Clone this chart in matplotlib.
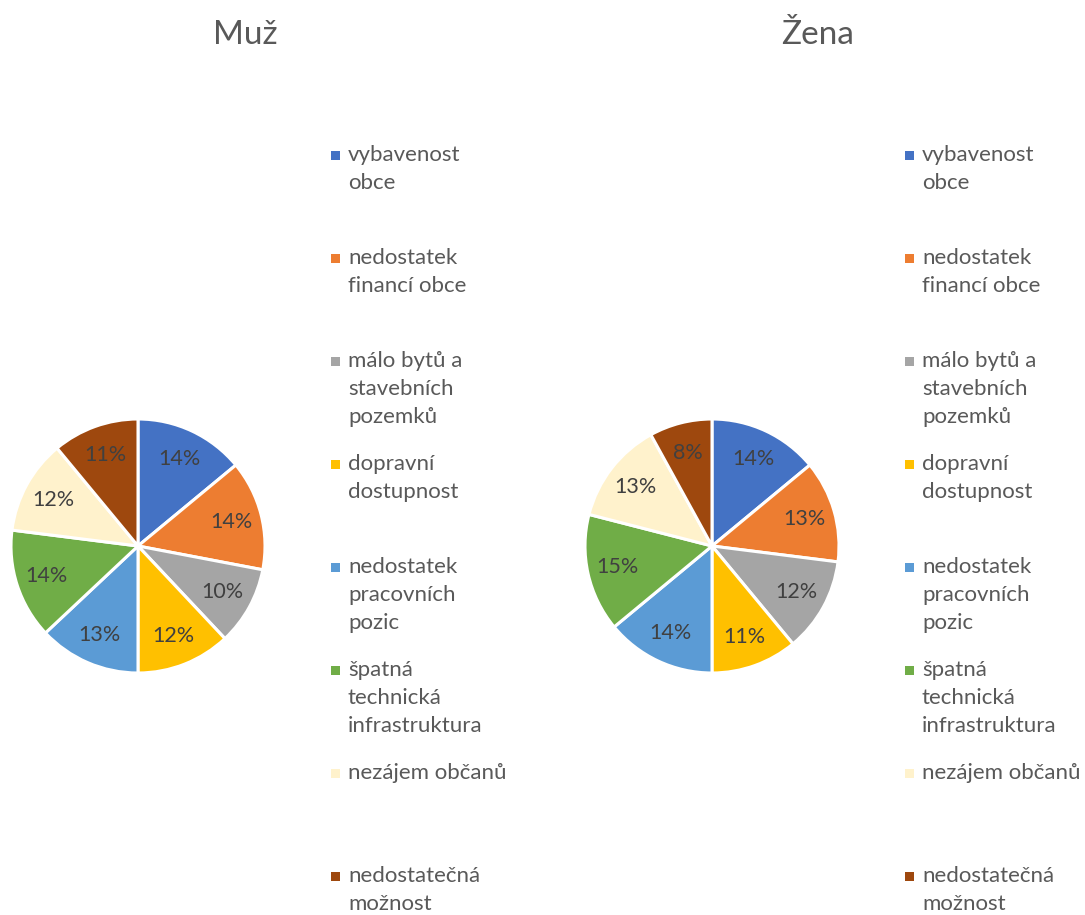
import matplotlib
matplotlib.use("Agg")
import matplotlib.pyplot as plt
from matplotlib.patches import Rectangle

plt.rcParams['font.family'] = ['Lato', 'DejaVu Sans']

titles = ["Muž", "Žena"]
categories = ["vybavenost\nobce", "nedostatek\nfinancí obce", "málo bytů a\nstavebních\npozemků",
              "dopravní\ndostupnost", "nedostatek\npracovních\npozic",
              "špatná\ntechnická\ninfrastruktura", "nezájem občanů", "nedostatečná\nmožnost"]
muz = [14, 14, 10, 12, 13, 14, 12, 11]
zena = [14, 13, 12, 11, 14, 15, 13, 8]
colors = ["#4472C4", "#ED7D31", "#A5A5A5", "#FFC000", "#5B9BD5", "#70AD47", "#FFF2CC", "#9E480E"]

W, H = 1085, 915
fig = plt.figure(figsize=(W / 100, H / 100), dpi=100)
fig.patch.set_facecolor("white")

# pixel helpers
def fx(px): return px / W
def fy(py): return 1 - py / H

R = 127
panels = [(138, 546, 245, 331, muz), (712, 546, 818, 905, zena)]
for (cx, cy, tx, lx, vals), title in zip(panels, titles):
    ax = fig.add_axes([fx(cx - R), fy(cy + R), 2 * R / W, 2 * R / H])
    wedges, texts, autotexts = ax.pie(vals, colors=colors, startangle=90, counterclock=False,
                                      autopct=lambda p: f"{p:.0f}%", pctdistance=0.76,
                                      wedgeprops=dict(edgecolor="white", linewidth=2.2),
                                      textprops=dict(color="#404040", fontsize=15.5))
    ax.set_xlim(-1, 1); ax.set_ylim(-1, 1); ax.set_aspect("equal")
    ax.axis("off")
    fig.text(fx(tx), fy(35), title, ha="center", va="center", fontsize=24, color="#595959")
    # legend
    for i, (lab, c) in enumerate(zip(categories, colors)):
        y = 155 + i * 103
        fig.patches.append(Rectangle((fx(lx), fy(y + 5)), 9 / W, 9 / H, transform=fig.transFigure,
                                     facecolor=c, edgecolor="none"))
        fig.text(fx(lx + 17), fy(y - 10), lab, ha="left", va="top", fontsize=16,
                 color="#595959", linespacing=1.5)

fig.savefig("out.png", dpi=100, facecolor="white")
